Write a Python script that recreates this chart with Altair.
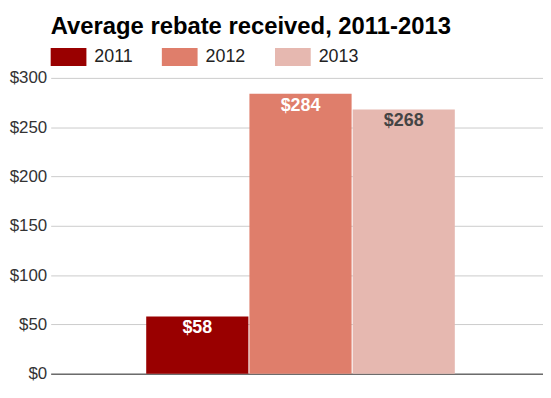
import altair as alt
import pandas as pd

years = ["2011", "2012", "2013"]
rebates = [58, 284, 268]
bar_labels = ["$58", "$284", "$268"]
bar_colors = ["#990000", "#df7e6b", "#e6b8b0"]
label_colors = ["#ffffff", "#ffffff", "#444444"]
y_ticks = [0, 50, 100, 150, 200, 250, 300]

df = pd.DataFrame({"year": years, "rebate": rebates, "label": bar_labels, "lc": label_colors})

FONT = "Liberation Sans"

x_enc = alt.X(
    "year:N",
    scale=alt.Scale(paddingInner=0.01, paddingOuter=0.89, align=0.52),
    axis=alt.Axis(labels=False, ticks=False, title=None, grid=False,
                  domainColor="#333333", domainWidth=1),
)
y_enc = alt.Y(
    "rebate:Q",
    scale=alt.Scale(domain=[0, 300], nice=False),
    axis=alt.Axis(values=y_ticks, labelExpr="'$' + datum.value", title=None,
                  domain=False, ticks=False, grid=True, gridColor="#cccccc",
                  labelFontSize=17, labelColor="#333333", labelFont=FONT, labelPadding=4),
)

bars = alt.Chart(df).mark_bar().encode(
    x=x_enc,
    y=y_enc,
    color=alt.Color(
        "year:N",
        scale=alt.Scale(domain=years, range=bar_colors),
        legend=alt.Legend(
            orient="none", legendX=0, legendY=-39, direction="horizontal", title=None,
            symbolType="M-1,-0.5H1V0.5H-1Z", symbolSize=1296, symbolStrokeWidth=0,
            symbolOpacity=1, labelFontSize=18, labelColor="#222222", labelFont=FONT,
            labelOffset=8, columnPadding=29, padding=0,
        ),
    ),
)

texts = alt.Chart(df).mark_text(
    baseline="alphabetic", dy=17, fontSize=18, fontWeight="bold", font=FONT
).encode(
    x=alt.X("year:N"),
    y=alt.Y("rebate:Q"),
    text="label:N",
    color=alt.Color("lc:N", scale=None, legend=None),
)

chart = alt.layer(bars, texts).properties(
    width=496,
    height=298,
    autosize=alt.AutoSizeParams(type="none"),
    padding={"left": 43, "top": 69, "right": 0, "bottom": 12},
    title=alt.TitleParams(
        "Average rebate received, 2011-2013", anchor="start", frame="group",
        font=FONT, fontSize=24, fontWeight="bold", color="#000000", dx=0, dy=24,
        offset=5, baseline="alphabetic",
    ),
).configure_view(stroke=None)

chart.save("out.html", embed_options={"renderer": "svg", "actions": False})
